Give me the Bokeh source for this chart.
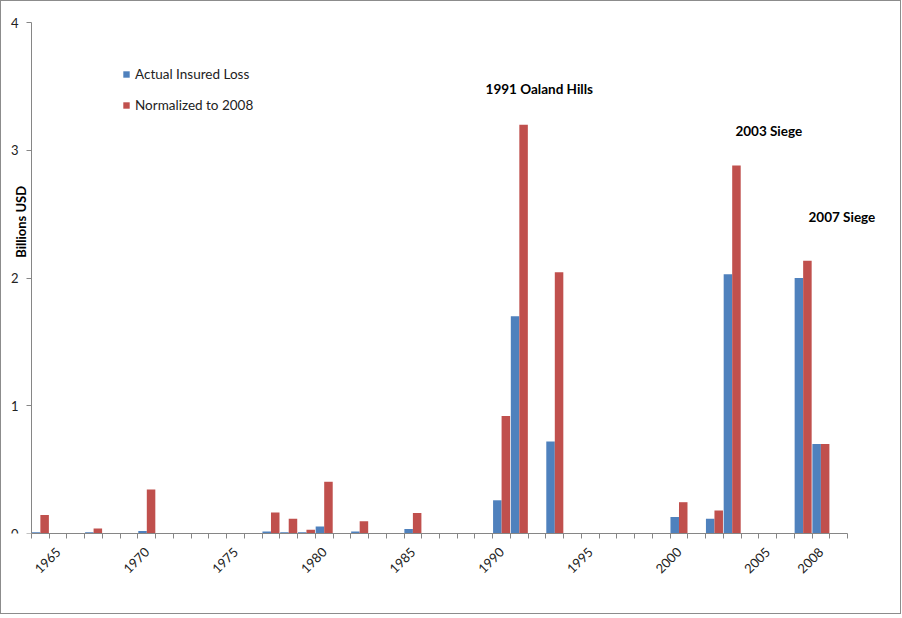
import math
from bokeh.plotting import figure
from bokeh.models import Range1d, FixedTicker, ColumnDataSource, Label, Legend, LegendItem
from bokeh.embed import file_html
from bokeh.resources import INLINE

# ---- data ----
years = list(range(1964, 2010))
actual_loss = [0.01, 0, 0, 0.01, 0, 0, 0.02, 0, 0, 0,
               0, 0, 0, 0.015, 0.01, 0.01, 0.055, 0, 0.015, 0,
               0, 0.035, 0, 0, 0, 0, 0.26, 1.70, 0, 0.72,
               0, 0, 0, 0, 0, 0, 0.13, 0, 0.115, 2.03,
               0, 0, 0, 2.0, 0.70, 0]
normalized_2008 = [0.145, 0, 0, 0.04, 0, 0, 0.345, 0, 0, 0,
                   0, 0, 0, 0.165, 0.115, 0.03, 0.405, 0, 0.095, 0,
                   0, 0.16, 0, 0, 0, 0, 0.92, 3.20, 0, 2.045,
                   0, 0, 0, 0, 0, 0, 0.245, 0, 0.18, 2.88,
                   0, 0, 0, 2.135, 0.70, 0]
tick_years = [1965, 1970, 1975, 1980, 1985, 1990, 1995, 2000, 2005, 2008]
y_ticks = [0, 1, 2, 3, 4]
series_names = ["Actual Insured Loss", "Normalized to 2008"]

annot_texts = ["1991  Oaland Hills", "2003  Siege", "2007  Siege"]
annot_x = [1989.1, 2003.18, 2007.3]
annot_y = [3.48, 3.147, 2.48]

BLUE = "#4F81BD"
RED = "#C0504D"
AXIS = "#868686"
FONT = "Lato"

# ---- layout geometry (pixels) ----
W, H = 901, 614
FRAME_L, FRAME_R, FRAME_T, FRAME_B = 1, 900, 1, 532   # drawing area on the page
AX_L, AX_R, AX_T = 30, 846, 21                         # where the axes lie on the page

x0, x1 = years[0] - 0.5, years[-1] + 0.5
ppx = (AX_R - AX_L) / (x1 - x0)
ppy = (FRAME_B - AX_T) / y_ticks[-1]
x_start = x0 - (AX_L - FRAME_L) / ppx
x_end = x1 + (FRAME_R - AX_R) / ppx
y_end = y_ticks[-1] + (AX_T - FRAME_T) / ppy

src = ColumnDataSource(dict(
    year=years,
    x_a=[y - 0.24 for y in years],
    x_n=[y + 0.24 for y in years],
    actual=actual_loss,
    norm=normalized_2008,
))

p = figure(width=W, height=H, output_backend="svg", toolbar_location=None,
           x_range=Range1d(x_start, x_end), y_range=Range1d(0, y_end),
           min_border_left=FRAME_L, min_border_right=W - FRAME_R,
           min_border_top=FRAME_T, min_border_bottom=H - FRAME_B)
p.styles = {"border": "1px solid #8c8c8c"}
p.outline_line_color = None
p.xgrid.visible = False
p.ygrid.visible = False
p.background_fill_color = "white"
p.border_fill_color = "white"

r_a = p.vbar(x="x_a", top="actual", width=0.48, source=src, fill_color=BLUE, line_color=None)
r_n = p.vbar(x="x_n", top="norm", width=0.48, source=src, fill_color=RED, line_color=None)

# x axis
xa = p.xaxis[0]
xa.bounds = (x0, x1)
xa.ticker = FixedTicker(ticks=tick_years, minor_ticks=[y - 0.5 for y in years] + [x1])
xa.major_tick_line_color = None
xa.minor_tick_line_color = AXIS
xa.minor_tick_in = 0
xa.minor_tick_out = 5
xa.axis_line_color = AXIS
xa.major_label_orientation = math.pi / 4
xa.major_label_text_font = FONT
xa.major_label_text_font_size = "13px"
xa.major_label_text_color = "#222222"
xa.major_label_standoff = 10

# y axis (placed at the first category edge)
ya = p.yaxis[0]
ya.fixed_location = x0
ya.bounds = (0, y_ticks[-1])
ya.ticker = FixedTicker(ticks=y_ticks, minor_ticks=[])
ya.major_tick_in = 0
ya.major_tick_out = 5
ya.major_tick_line_color = AXIS
ya.minor_tick_line_color = None
ya.axis_line_color = AXIS
ya.major_label_text_font = FONT
ya.major_label_text_font_size = "13px"
ya.major_label_text_color = "#222222"
ya.major_label_standoff = 8

# y axis title
p.add_layout(Label(x=x0 - 11 / ppx, y=2.44, text="Billions USD", angle=math.pi / 2,
                   text_align="center", text_baseline="middle", text_font=FONT,
                   text_font_size="13px", text_font_style="bold", text_color="#000000"))

for t, ax, ay in zip(annot_texts, annot_x, annot_y):
    p.add_layout(Label(x=ax, y=ay, text=t, text_align="left", text_baseline="middle",
                       text_font=FONT, text_font_size="13.5px", text_font_style="bold",
                       text_color="#000000"))

legend = Legend(items=[LegendItem(label=series_names[0], renderers=[r_a]),
                       LegendItem(label=series_names[1], renderers=[r_n])],
                location=(120, 418))
legend.border_line_color = None
legend.background_fill_alpha = 0
legend.padding = 0
legend.margin = 0
legend.glyph_width = 8
legend.glyph_height = 8
legend.label_height = 20
legend.spacing = 11
legend.label_standoff = 5
legend.label_text_font = FONT
legend.label_text_font_size = "13.5px"
legend.label_text_color = "#222222"
p.add_layout(legend, "center")

open("out.html", "w").write(file_html(p, INLINE))
